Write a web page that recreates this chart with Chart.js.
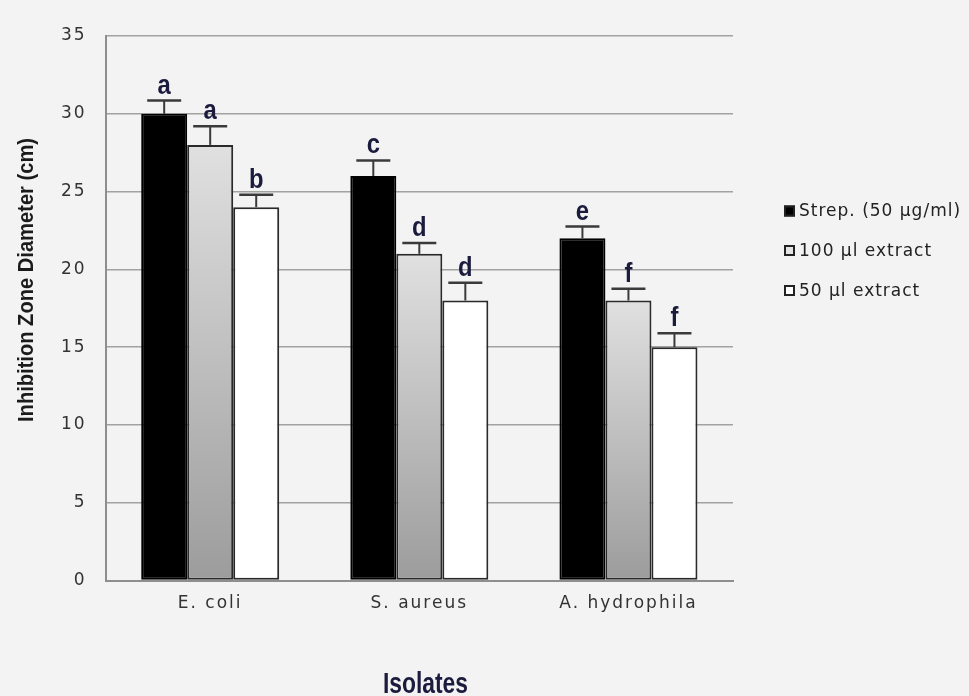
<!DOCTYPE html>
<html><head><meta charset="utf-8">
<script src="https://cdn.jsdelivr.net/npm/chart.js@4.4.1/dist/chart.umd.min.js"></script>
<style>
html,body{margin:0;padding:0;background:#f3f3f3;}
#wrap{position:relative;width:969px;height:696px;}
</style></head><body>
<div id="wrap"><canvas id="c"></canvas></div>
<script>
const categories = ['E. coli', 'S. aureus', 'A. hydrophila'];
const seriesLabels = ['Strep. (50 µg/ml)', '100 µl extract', '50 µl extract'];
const strepValues = [30, 26, 22];
const extract100Values = [28, 21, 18];
const extract50Values = [24, 18, 15];
const strepErrors = [0.85, 1.0, 0.75];
const extract100Errors = [1.2, 0.7, 0.75];
const extract50Errors = [0.8, 1.15, 0.9];
const strepLetters = ['a', 'c', 'e'];
const extract100Letters = ['a', 'd', 'f'];
const extract50Letters = ['b', 'd', 'f'];
const yTickValues = [0, 5, 10, 15, 20, 25, 30, 35];
const xAxisTitle = 'Isolates';
const yAxisTitle = 'Inhibition Zone Diameter (cm)';

const BOLDFONT = "'Liberation Sans', Arial, sans-serif";
const TICKFONT = "'DejaVu Sans', 'Liberation Sans', sans-serif";

function grayFill(c) {
  const chart = c.chart;
  if (!chart.chartArea || c.type !== 'data') return '#d6d6d6';
  const y = chart.scales.y;
  const top = y.getPixelForValue(c.raw);
  const bottom = y.getPixelForValue(0);
  const g = chart.ctx.createLinearGradient(0, top, 0, bottom);
  g.addColorStop(0, '#e0e0e0');
  g.addColorStop(1, '#9c9c9c');
  return g;
}

const spacingPlugin = {
  id: 'spacing',
  beforeLayout(chart) { chart.ctx.letterSpacing = '2px'; },
  beforeDraw(chart) { chart.ctx.letterSpacing = '2px'; }
};

function condensedText(ctx, text, x, y, targetWidth, rotate) {
  ctx.save();
  ctx.translate(x, y);
  if (rotate) ctx.rotate(-Math.PI / 2);
  const w = ctx.measureText(text).width;
  ctx.scale(targetWidth / w, 1);
  ctx.fillText(text, 0, 0);
  ctx.restore();
}

const errorPlugin = {
  id: 'errorBars',
  afterDatasetsDraw(chart) {
    const ctx = chart.ctx, y = chart.scales.y;
    chart.data.datasets.forEach((ds, i) => {
      const meta = chart.getDatasetMeta(i);
      meta.data.forEach((bar, j) => {
        const yTop = y.getPixelForValue(ds.data[j] + ds.errors[j]);
        const x = bar.x;
        ctx.save();
        ctx.letterSpacing = '0px';
        ctx.strokeStyle = '#3a3a3a';
        ctx.lineWidth = 2;
        ctx.beginPath();
        ctx.moveTo(x, bar.y); ctx.lineTo(x, yTop);
        ctx.stroke();
        ctx.lineWidth = 2.5;
        ctx.beginPath();
        ctx.moveTo(x - 17, yTop); ctx.lineTo(x + 17, yTop);
        ctx.stroke();
        ctx.font = 'bold 28px ' + BOLDFONT;
        ctx.fillStyle = '#1b1b3d';
        ctx.textAlign = 'center';
        ctx.textBaseline = 'alphabetic';
        const w = ctx.measureText(ds.letters[j]).width;
        condensedText(ctx, ds.letters[j], x, yTop - 7, w * 0.85, false);
        ctx.restore();
      });
    });
  }
};

const titlesPlugin = {
  id: 'axisTitles',
  afterDraw(chart) {
    const ctx = chart.ctx;
    ctx.save();
    ctx.letterSpacing = '0px';
    ctx.textAlign = 'center';
    ctx.textBaseline = 'alphabetic';
    ctx.fillStyle = '#1b1b1b';
    ctx.font = 'bold 22px ' + BOLDFONT;
    condensedText(ctx, yAxisTitle, 33, 280, 284, true);
    ctx.fillStyle = '#1b1b3d';
    ctx.font = 'bold 29px ' + BOLDFONT;
    condensedText(ctx, xAxisTitle, 425.5, 693, 85, false);
    ctx.restore();
  }
};

const legendPlugin = {
  id: 'sideLegend',
  afterDraw(chart) {
    const ctx = chart.ctx;
    const centers = [211, 250.5, 290.5];
    chart.data.datasets.forEach((ds, i) => {
      const cy = centers[i];
      ctx.save();
      ctx.letterSpacing = '1px';
      ctx.fillStyle = ds.legendFill;
      ctx.fillRect(784, cy - 5.5, 11, 11);
      ctx.strokeStyle = '#222';
      ctx.lineWidth = 2;
      ctx.strokeRect(785, cy - 4.5, 9, 9);
      ctx.font = '17px ' + TICKFONT;
      ctx.fillStyle = '#222';
      ctx.textAlign = 'left';
      ctx.textBaseline = 'middle';
      ctx.fillText(ds.label, 799, cy + 1);
      ctx.restore();
    });
  }
};

new Chart(document.getElementById('c'), {
  type: 'bar',
  data: {
    labels: categories,
    datasets: [
      { label: seriesLabels[0], data: strepValues, errors: strepErrors, letters: strepLetters,
        backgroundColor: '#000000', borderColor: '#000000', legendFill: '#000000' },
      { label: seriesLabels[1], data: extract100Values, errors: extract100Errors, letters: extract100Letters,
        backgroundColor: grayFill, borderColor: '#2a2a2a', legendFill: '#e4e4e4' },
      { label: seriesLabels[2], data: extract50Values, errors: extract50Errors, letters: extract50Letters,
        backgroundColor: '#ffffff', borderColor: '#2a2a2a', legendFill: '#ffffff' }
    ]
  },
  options: {
    responsive: true,
    maintainAspectRatio: false,
    animation: false,
    layout: { padding: { top: 36, right: 236, bottom: 69, left: 42 } },
    datasets: { bar: { barPercentage: 1.0, categoryPercentage: 0.66, borderWidth: 2, borderSkipped: false } },
    plugins: {
      legend: { display: false },
      tooltip: { enabled: false }
    },
    scales: {
      x: {
        grid: { display: false, drawTicks: false },
        border: { display: true, color: '#8e8e8e', width: 2 },
        ticks: { color: '#333', font: { family: TICKFONT, size: 17 }, padding: 13 }
      },
      y: {
        min: 0, max: 35,
        afterBuildTicks: s => { s.ticks = yTickValues.map(v => ({ value: v })); },
        grid: { color: '#a2a2a2', lineWidth: 1.5, drawTicks: false },
        border: { display: true, color: '#8e8e8e', width: 2 },
        ticks: { color: '#333', font: { family: TICKFONT, size: 17 }, padding: 19 }
      }
    }
  },
  plugins: [spacingPlugin, errorPlugin, titlesPlugin, legendPlugin]
});
</script>
</body></html>
